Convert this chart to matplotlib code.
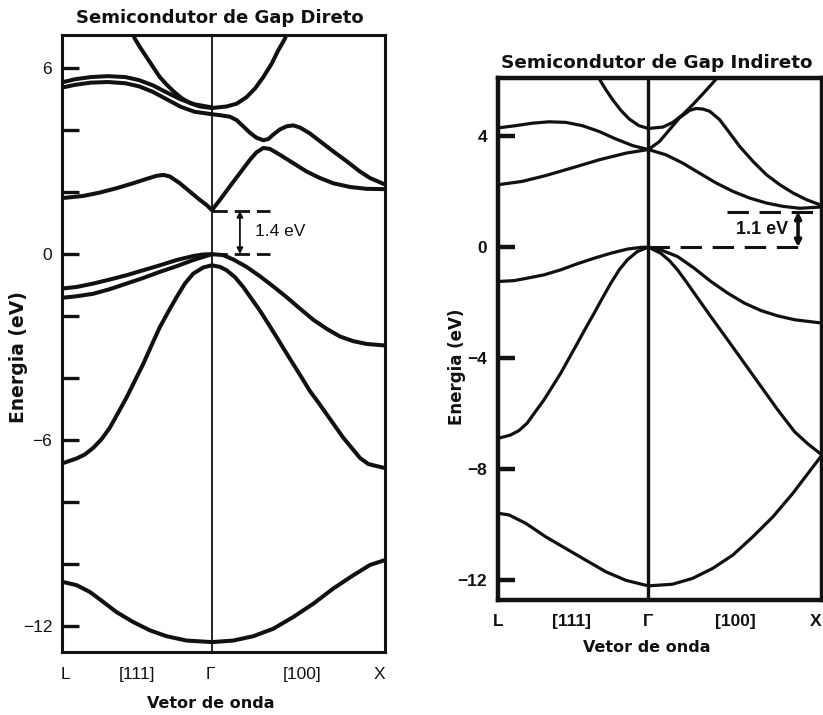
import matplotlib
matplotlib.use("Agg")
import matplotlib.pyplot as plt

# k path: L at -0.866, Gamma at 0, X at 1  (|L-G| = sqrt(3)/2 |G-X|)
K_L, K_G, K_X = -0.866, 0.0, 1.0

# ---------------- direct gap (left panel), energies in eV ----------------
dir_c3_k = [-0.47, -0.445, -0.416, -0.378, -0.339, -0.301, -0.262, -0.224, -0.175, -0.127, -0.069, 0.0,
            0.085, 0.143, 0.200, 0.249, 0.297, 0.345, 0.383, 0.422, 0.445]
dir_c3_e = [7.30, 6.96, 6.69, 6.37, 6.04, 5.72, 5.48, 5.27, 5.04, 4.88, 4.77, 4.72,
            4.77, 4.86, 5.07, 5.35, 5.72, 6.15, 6.58, 6.96, 7.30]

dir_c2a_k = [-0.866, -0.79, -0.70, -0.60, -0.50, -0.42, -0.34, -0.26, -0.18, -0.10, 0.0]
dir_c2a_e = [5.55, 5.65, 5.72, 5.75, 5.72, 5.62, 5.45, 5.22, 5.00, 4.84, 4.74]

dir_c2b_k = [-0.866, -0.79, -0.70, -0.60, -0.50, -0.42, -0.34, -0.26, -0.18, -0.10, 0.0,
             0.046, 0.104, 0.143, 0.181, 0.220, 0.258, 0.297, 0.326, 0.354, 0.393, 0.432,
             0.470, 0.509, 0.566, 0.624, 0.701, 0.779, 0.855, 0.913, 1.0]
dir_c2b_e = [5.38, 5.47, 5.54, 5.56, 5.52, 5.42, 5.24, 5.00, 4.76, 4.60, 4.52,
             4.49, 4.44, 4.33, 4.13, 3.92, 3.76, 3.68, 3.72, 3.86, 4.03, 4.13,
             4.16, 4.09, 3.90, 3.65, 3.32, 3.00, 2.67, 2.46, 2.25]

dir_c1_k = [-0.866, -0.744, -0.647, -0.551, -0.455, -0.378, -0.320, -0.281, -0.243, -0.185, -0.127,
            -0.069, -0.031, 0.0, 0.046, 0.104, 0.162, 0.220, 0.258, 0.297, 0.335, 0.393,
            0.470, 0.547, 0.624, 0.701, 0.798, 0.894, 1.0]
dir_c1_e = [1.81, 1.88, 1.99, 2.13, 2.29, 2.43, 2.53, 2.56, 2.51, 2.29, 2.02,
            1.75, 1.59, 1.42, 1.75, 2.19, 2.62, 3.05, 3.29, 3.43, 3.40, 3.21,
            2.94, 2.67, 2.46, 2.29, 2.17, 2.11, 2.10]

dir_v1_k = [-0.866, -0.782, -0.686, -0.590, -0.493, -0.397, -0.300, -0.204, -0.108, -0.05, 0.0,
            0.065, 0.123, 0.200, 0.277, 0.354, 0.432, 0.509, 0.586, 0.663, 0.740, 0.817, 0.894, 1.0]
dir_v1_e = [-1.11, -1.06, -0.95, -0.82, -0.68, -0.52, -0.36, -0.19, -0.06, -0.01, 0.0,
            -0.03, -0.17, -0.41, -0.71, -1.04, -1.39, -1.76, -2.12, -2.41, -2.66, -2.81, -2.90, -2.95]

dir_v2_k = [-0.866, -0.782, -0.686, -0.590, -0.493, -0.397, -0.300, -0.204, -0.108, -0.05, 0.0]
dir_v2_e = [-1.41, -1.36, -1.28, -1.13, -0.95, -0.77, -0.57, -0.39, -0.19, -0.09, 0.0]

dir_so_k = [-0.866, -0.782, -0.734, -0.686, -0.638, -0.590, -0.541, -0.493, -0.445, -0.397, -0.349,
            -0.301, -0.253, -0.204, -0.156, -0.108, -0.05, 0.0, 0.046, 0.085, 0.133, 0.181,
            0.229, 0.277, 0.326, 0.374, 0.422, 0.470, 0.518, 0.566, 0.615, 0.663, 0.711,
            0.759, 0.808, 0.855, 0.904, 1.0]
dir_so_e = [-6.76, -6.60, -6.47, -6.26, -5.98, -5.61, -5.12, -4.63, -4.09, -3.55, -2.95,
            -2.36, -1.87, -1.39, -0.95, -0.63, -0.43, -0.36, -0.41, -0.52, -0.74, -1.06,
            -1.44, -1.82, -2.25, -2.68, -3.12, -3.55, -3.98, -4.42, -4.79, -5.17, -5.55,
            -5.93, -6.26, -6.58, -6.78, -6.91]

dir_s_k = [-0.866, -0.782, -0.705, -0.628, -0.551, -0.455, -0.358, -0.262, -0.146, 0.0,
           0.123, 0.239, 0.354, 0.470, 0.586, 0.701, 0.817, 0.913, 1.0]
dir_s_e = [-10.58, -10.69, -10.91, -11.23, -11.56, -11.88, -12.15, -12.34, -12.48, -12.53,
           -12.48, -12.34, -12.10, -11.72, -11.29, -10.80, -10.37, -10.04, -9.88]

dir_gap = 1.4

# ---------------- indirect gap (right panel) ----------------
ind_c3_k = [-0.30, -0.283, -0.245, -0.206, -0.158, -0.110, -0.054, 0.0, 0.083, 0.141, 0.198,
            0.256, 0.314, 0.362, 0.391, 0.41]
ind_c3_e = [6.30, 6.07, 5.68, 5.32, 4.93, 4.62, 4.38, 4.28, 4.33, 4.50, 4.78,
            5.14, 5.53, 5.86, 6.07, 6.30]

ind_c2a_k = [-0.866, -0.765, -0.669, -0.572, -0.476, -0.380, -0.283, -0.187, -0.090, 0.0,
             0.101, 0.198, 0.294, 0.391, 0.487, 0.583, 0.680, 0.776, 0.872, 1.0]
ind_c2a_e = [4.30, 4.38, 4.47, 4.52, 4.50, 4.38, 4.17, 3.90, 3.66, 3.52,
             3.33, 3.03, 2.67, 2.31, 2.01, 1.77, 1.59, 1.47, 1.40, 1.45]

ind_c2b_k = [-0.866, -0.727, -0.592, -0.438, -0.283, -0.129, 0.0, 0.064, 0.121, 0.179, 0.237,
             0.275, 0.314, 0.353, 0.410, 0.468, 0.526, 0.603, 0.680, 0.757, 0.834, 0.911, 1.0]
ind_c2b_e = [2.25, 2.37, 2.58, 2.86, 3.15, 3.39, 3.52, 3.81, 4.23, 4.66, 4.93,
             5.00, 4.98, 4.90, 4.60, 4.12, 3.63, 3.09, 2.61, 2.25, 1.95, 1.71, 1.50]

ind_v1_k = [-0.866, -0.775, -0.698, -0.601, -0.505, -0.409, -0.312, -0.216, -0.120, -0.044, 0.0,
            0.071, 0.168, 0.264, 0.360, 0.457, 0.553, 0.649, 0.745, 0.842, 1.0]
ind_v1_e = [-1.24, -1.21, -1.12, -1.00, -0.82, -0.60, -0.40, -0.22, -0.07, -0.01, 0.0,
            -0.10, -0.34, -0.76, -1.24, -1.66, -2.02, -2.29, -2.48, -2.62, -2.74]

ind_v2_k = [-0.866, -0.795, -0.746, -0.698, -0.650, -0.601, -0.553, -0.505, -0.457, -0.409,
            -0.361, -0.312, -0.265, -0.216, -0.168, -0.121, -0.064, 0.0,
            0.071, 0.120, 0.168, 0.217, 0.264, 0.360, 0.457, 0.553, 0.649, 0.745, 0.842, 0.919, 1.0]
ind_v2_e = [-6.90, -6.78, -6.62, -6.35, -5.93, -5.51, -5.03, -4.55, -4.01, -3.47,
            -2.92, -2.38, -1.84, -1.30, -0.82, -0.46, -0.16, 0.0,
            -0.22, -0.48, -0.82, -1.24, -1.66, -2.51, -3.35, -4.19, -5.03, -5.87, -6.66, -7.10, -7.50]

ind_s_k = [-0.866, -0.803, -0.707, -0.591, -0.476, -0.361, -0.245, -0.129, 0.0,
           0.139, 0.254, 0.370, 0.486, 0.601, 0.717, 0.832, 0.928, 1.0]
ind_s_e = [-9.60, -9.66, -9.96, -10.45, -10.87, -11.29, -11.71, -12.02, -12.22,
           -12.16, -11.95, -11.59, -11.11, -10.45, -9.73, -8.88, -8.09, -7.50]

ind_gap = 1.28

path_labels = ["L", "[111]", "\u0393", "[100]", "X"]

INK = "#111111"
SANS = "Liberation Sans"
BOLD = "DejaVu Sans"

fig = plt.figure(figsize=(8.23, 7.15), dpi=100)

# ---------------- left panel ----------------
ax1 = fig.add_axes([0.0753, 0.0881, 0.3925, 0.8630])
lw1 = 2.9
bands1 = [(dir_c3_k, dir_c3_e), (dir_c2a_k, dir_c2a_e), (dir_c2b_k, dir_c2b_e),
          (dir_c1_k, dir_c1_e), (dir_v1_k, dir_v1_e), (dir_v2_k, dir_v2_e),
          (dir_so_k, dir_so_e), (dir_s_k, dir_s_e)]
for k, e in bands1:
    ax1.plot(k, e, color=INK, lw=lw1, solid_joinstyle="round", solid_capstyle="round")
ax1.axvline(K_G, color=INK, lw=1.3)
ax1.set_xlim(K_L, K_X)
ax1.set_ylim(-12.85, 7.08)

ax1.hlines([dir_gap, 0.0], 0.0, 0.335, colors=INK, lw=2.0, linestyles=(0, (5.5, 2.5)))
ax1.annotate("", xy=(0.162, 0.0), xytext=(0.162, dir_gap),
             arrowprops=dict(arrowstyle="<|-|>", color=INK, lw=1.3, shrinkA=0, shrinkB=0,
                             mutation_scale=9))
ax1.text(0.249, 0.73, "1.4 eV", fontsize=12.5, family=SANS, color=INK, va="center", ha="left")

ax1.set_yticks([6, 4, 2, 0, -2, -4, -6, -8, -10, -12])
ax1.set_yticklabels(["6", "", "", "0", "", "", "\u22126", "", "", "\u221212"])
ax1.tick_params(axis="y", direction="in", length=12, width=2.4, pad=7, labelsize=12.5,
                colors=INK)
for lab in ax1.get_yticklabels():
    lab.set_family(SANS)
ax1.set_xticks([-0.846, -0.43, -0.01, 0.52, 0.966])
ax1.set_xticklabels(path_labels, family=SANS, fontsize=12.5)
ax1.tick_params(axis="x", length=0, pad=11, colors=INK)
for sp in ax1.spines.values():
    sp.set_linewidth(2.2)
    sp.set_color(INK)

# ---------------- right panel ----------------
ax2 = fig.add_axes([0.6051, 0.1608, 0.3937, 0.7301])
lw2 = 2.3
bands2 = [(ind_c3_k, ind_c3_e), (ind_c2a_k, ind_c2a_e), (ind_c2b_k, ind_c2b_e),
          (ind_v1_k, ind_v1_e), (ind_v2_k, ind_v2_e), (ind_s_k, ind_s_e)]
for k, e in bands2:
    ax2.plot(k, e, color=INK, lw=lw2, solid_joinstyle="round", solid_capstyle="round")
ax2.axvline(K_G, color=INK, lw=2.4)
ax2.set_xlim(K_L, K_X)
ax2.set_ylim(-12.73, 6.1)

ax2.hlines(ind_gap, 0.45, 1.0, colors=INK, lw=2.2, linestyles=(0, (7, 3.5)))
ax2.hlines(0.0, 0.0, 0.91, colors=INK, lw=2.2, linestyles=(0, (7, 3.5)))
ax2.annotate("", xy=(0.862, 0.0), xytext=(0.862, ind_gap),
             arrowprops=dict(arrowstyle="<|-|>", color=INK, lw=2.6, shrinkA=0, shrinkB=0,
                             mutation_scale=9))
ax2.text(0.653, 0.64, "1.1 eV", fontsize=13, family=SANS, weight="bold", color=INK,
         va="center", ha="center")

ax2.set_yticks([4, 0, -4, -8, -12])
ax2.set_yticklabels(["4", "0", "\u22124", "\u22128", "\u221212"])
ax2.tick_params(axis="y", direction="in", length=12, width=3.2, pad=8, labelsize=12.5,
                colors=INK)
for lab in ax2.get_yticklabels():
    lab.set_family(SANS)
    lab.set_weight("bold")
ax2.set_xticks([-0.866, -0.445, 0.0, 0.50, 0.962])
ax2.set_xticklabels(path_labels, family=SANS, fontsize=12.5, weight="bold")
ax2.tick_params(axis="x", length=0, pad=10, colors=INK)
for sp in ax2.spines.values():
    sp.set_linewidth(3.2)
    sp.set_color(INK)

# ---------------- titles and axis labels ----------------
fig.text(0.2673, 0.975, "Semicondutor de Gap Direto", ha="center", va="center",
         fontsize=13, weight="bold", family=BOLD, color=INK)
fig.text(0.798, 0.912, "Semicondutor de Gap Indireto", ha="center", va="center",
         fontsize=13.2, weight="bold", family=BOLD, color=INK)
fig.text(0.2564, 0.0154, "Vetor de onda", ha="center", va="center",
         fontsize=11.5, weight="bold", family=BOLD, color=INK)
fig.text(0.7858, 0.0951, "Vetor de onda", ha="center", va="center",
         fontsize=11.5, weight="bold", family=BOLD, color=INK)
fig.text(0.023, 0.50, "Energia (eV)", ha="center", va="center", rotation=90,
         fontsize=13.5, weight="bold", family=BOLD, color=INK)
fig.text(0.555, 0.487, "Energia (eV)", ha="center", va="center", rotation=90,
         fontsize=12, weight="bold", family=BOLD, color=INK)

fig.savefig("out.png", dpi=100)
plt.close(fig)
